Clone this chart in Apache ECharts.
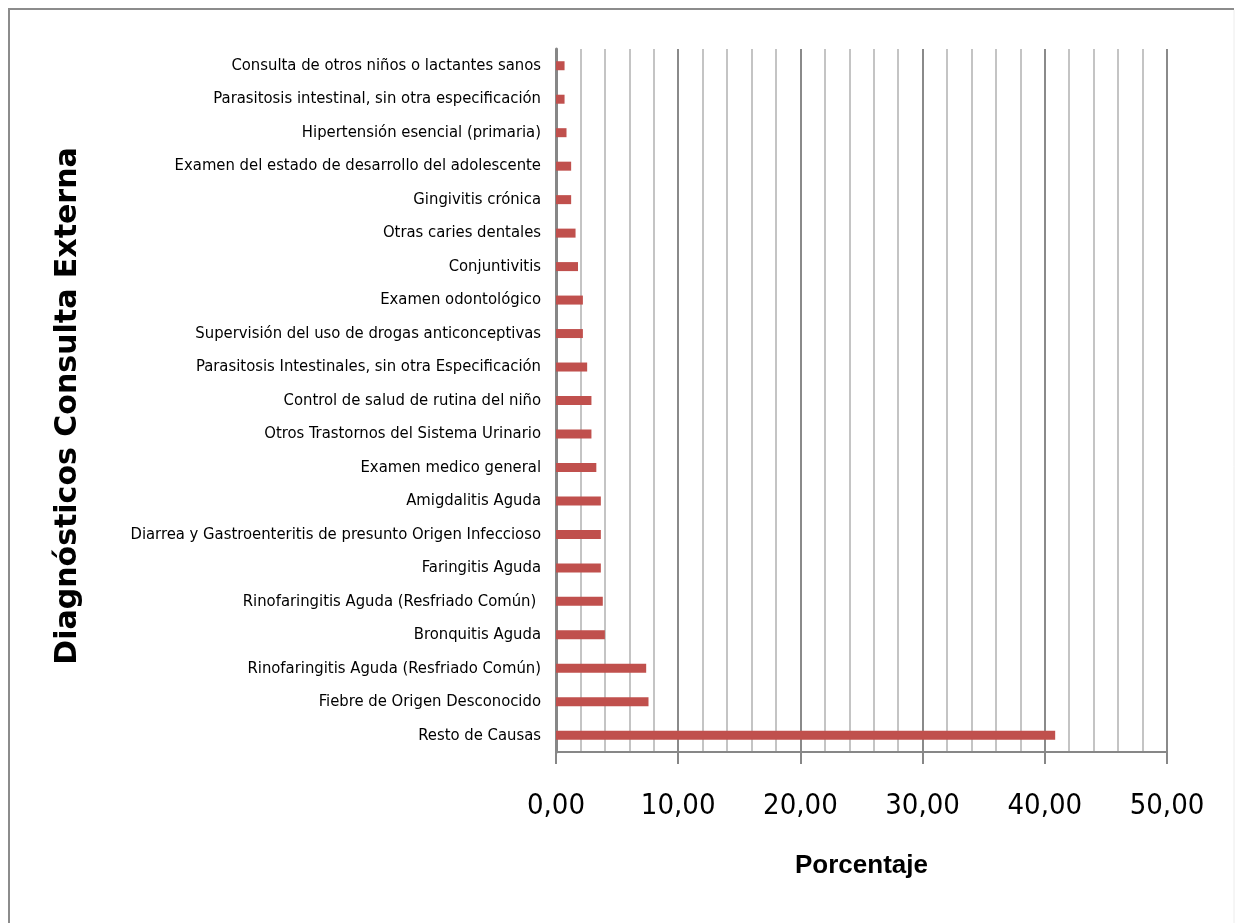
<!DOCTYPE html>
<html>
<head>
<meta charset="utf-8">
<script src="https://cdn.jsdelivr.net/npm/echarts@6/dist/echarts.min.js"></script>
<style>
  html, body { margin: 0; padding: 0; background: #ffffff; }
  #chart { width: 1235px; height: 923px; }
</style>
</head>
<body>
<div id="chart"></div>
<script>
// Diagnoses, listed from the bottom of the axis to the top
const categories = [
  'Resto de Causas',
  'Fiebre de Origen Desconocido',
  'Rinofaringitis Aguda (Resfriado Común)',
  'Bronquitis Aguda',
  'Rinofaringitis Aguda (Resfriado Común) ',
  'Faringitis Aguda',
  'Diarrea y Gastroenteritis de presunto Origen Infeccioso',
  'Amigdalitis Aguda',
  'Examen medico general',
  'Otros Trastornos del Sistema Urinario',
  'Control de salud de rutina del niño',
  'Parasitosis Intestinales, sin otra Especificación',
  'Supervisión del uso de drogas anticonceptivas',
  'Examen odontológico',
  'Conjuntivitis',
  'Otras caries dentales',
  'Gingivitis crónica',
  'Examen del estado de desarrollo del adolescente',
  'Hipertensión esencial (primaria)',
  'Parasitosis intestinal, sin otra especificación',
  'Consulta de otros niños o lactantes sanos'
];

// Share of consultations (%)
const porcentaje = [
  40.85, 7.57, 7.38, 4.00, 3.83, 3.67, 3.67, 3.67, 3.30, 2.90, 2.90,
  2.55, 2.20, 2.20, 1.80, 1.60, 1.24, 1.24, 0.86, 0.70, 0.70
];

const xTicks = [0, 10, 20, 30, 40, 50];

const chart = echarts.init(document.getElementById('chart'), null, { renderer: 'canvas' });

const narrow = '"DejaVu Sans Condensed", "Liberation Sans Narrow", sans-serif';

chart.setOption({
  animation: false,
  backgroundColor: '#ffffff',
  grid: { left: 556, right: 68, top: 49, bottom: 171 },
  xAxis: {
    type: 'value',
    min: xTicks[0],
    max: xTicks[xTicks.length - 1],
    interval: xTicks[1] - xTicks[0],
    name: 'Porcentaje',
    nameLocation: 'middle',
    nameGap: 101,
    nameTextStyle: {
      fontFamily: '"Liberation Sans", sans-serif',
      fontWeight: 'bold',
      fontSize: 26,
      color: '#000000',
      verticalAlign: 'top'
    },
    axisLine: { show: true, lineStyle: { color: '#878787', width: 2 } },
    axisTick: { show: true, length: 12, lineStyle: { color: '#878787', width: 2 } },
    axisLabel: {
      margin: 40,
      fontFamily: narrow,
      fontSize: 29,
      color: '#000000',
      formatter: v => v.toFixed(2).replace('.', ',')
    },
    splitLine: { show: true, lineStyle: { color: '#8a8a8a', width: 2 } },
    minorTick: { show: false, splitNumber: 5 },
    minorSplitLine: { show: true, lineStyle: { color: '#c4c4c4', width: 2 } }
  },
  yAxis: {
    type: 'category',
    data: categories,
    axisLine: { show: true, lineStyle: { color: '#878787', width: 3 } },
    axisTick: { show: false },
    axisLabel: {
      margin: 15,
      fontFamily: narrow,
      fontSize: 16.5,
      color: '#000000',
      interval: 0
    },
    splitLine: { show: false }
  },
  series: [{
    type: 'bar',
    data: porcentaje,
    barWidth: 9,
    itemStyle: { color: '#c0504d' }
  }],
  graphic: [
    {
      type: 'text',
      x: 68,
      y: 406,
      rotation: Math.PI / 2,
      style: {
        text: 'Diagnósticos Consulta Externa',
        fontFamily: '"DejaVu Sans", sans-serif',
        fontWeight: 'bold',
        fontSize: 30,
        fill: '#000000',
        align: 'center',
        verticalAlign: 'middle'
      }
    },
    {
      // chart frame: left and top edges
      type: 'polyline',
      shape: { points: [[9, 923], [9, 9], [1234, 9]] },
      style: { stroke: '#8c8c8c', lineWidth: 2, fill: null }
    },
    {
      // faint right edge of the frame
      type: 'line',
      shape: { x1: 1234, y1: 10, x2: 1234, y2: 923 },
      style: { stroke: '#ececec', lineWidth: 1 }
    }
  ]
});
</script>
</body>
</html>
